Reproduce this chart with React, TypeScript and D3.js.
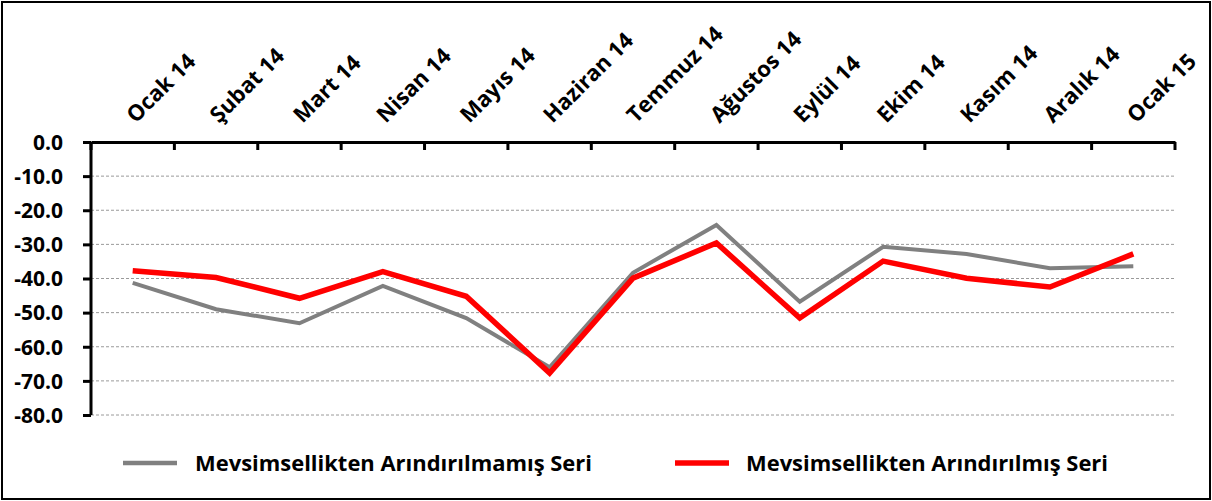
import { useEffect, useRef } from "react";
import * as d3 from "d3";

const months = [
  "Ocak 14", "Şubat 14", "Mart 14", "Nisan 14", "Mayıs 14", "Haziran 14", "Temmuz 14",
  "Ağustos 14", "Eylül 14", "Ekim 14", "Kasım 14", "Aralık 14", "Ocak 15",
];
const rawSeries = [-41.3, -49.0, -53.1, -42.2, -51.6, -66.0, -38.3, -24.3, -46.8, -30.7, -32.8, -37.0, -36.4];
const adjustedSeries = [-37.7, -39.7, -45.8, -38.0, -45.2, -67.7, -39.9, -29.6, -51.6, -34.9, -39.9, -42.5, -32.8];
const yTicks = [0, -10, -20, -30, -40, -50, -60, -70, -80];
const legendLabels = ["Mevsimsellikten Arındırılmamış Seri", "Mevsimsellikten Arındırılmış Seri"];

function App() {
  const ref = useRef<SVGSVGElement>(null);

  const width = 1212;
  const height = 501;
  const margin = { top: 142, right: 37, bottom: 86, left: 91 };
  const font = "'Open Sans', Lato, sans-serif";

  useEffect(() => {
    const svg = d3.select(ref.current);
    svg.selectAll("*").remove();

    const x = d3.scaleBand()
      .domain(months)
      .range([margin.left, width - margin.right]);

    const y = d3.scaleLinear()
      .domain([0, -80])
      .range([margin.top, height - margin.bottom]);

    // outer frame
    svg.append("rect")
      .attr("x", 2).attr("y", 2)
      .attr("width", width - 4).attr("height", height - 4)
      .attr("fill", "white")
      .attr("stroke", "black")
      .attr("stroke-width", 2);

    // dotted gridlines
    svg.append("g")
      .selectAll("line")
      .data(yTicks.filter(d => d !== 0))
      .enter()
      .append("line")
      .attr("x1", margin.left)
      .attr("x2", width - margin.right)
      .attr("y1", d => y(d))
      .attr("y2", d => y(d))
      .attr("stroke", "#9a9a9a")
      .attr("stroke-width", 1)
      .attr("stroke-dasharray", "3,2");

    // x axis along the top (at 0)
    const xAxis = svg.append("g")
      .attr("transform", `translate(0, ${y(0)})`)
      .call(d3.axisBottom(x).tickSize(0).tickFormat(() => ""));
    xAxis.select(".domain").attr("stroke", "black").attr("stroke-width", 3);
    const bounds = [...months.map(m => x(m) as number), width - margin.right];
    xAxis.selectAll("line.edge")
      .data(bounds)
      .enter()
      .append("line")
      .attr("class", "edge")
      .attr("x1", d => d).attr("x2", d => d)
      .attr("y1", 0).attr("y2", 8)
      .attr("stroke", "black")
      .attr("stroke-width", 3);

    // rotated month labels
    svg.append("g")
      .selectAll("text")
      .data(months)
      .enter()
      .append("text")
      .attr("transform", d => `translate(${(x(d) as number) + x.bandwidth() / 2 + 3}, 124) rotate(-45)`)
      .attr("font-family", font)
      .attr("font-weight", "bold")
      .attr("font-size", 22)
      .attr("fill", "black")
      .text(d => d);

    // y axis
    const yAxis = svg.append("g")
      .attr("transform", `translate(${margin.left}, 0)`)
      .call(d3.axisLeft(y).tickValues(yTicks).tickSize(8).tickPadding(20).tickFormat(d => (d as number).toFixed(1)));
    yAxis.select(".domain").attr("stroke", "black").attr("stroke-width", 3).attr("d", `M0,${y(0)}V${y(-80)}`);
    yAxis.selectAll(".tick line").attr("stroke", "black").attr("stroke-width", 3);
    yAxis.selectAll(".tick text")
      .attr("font-family", font)
      .attr("font-weight", "bold")
      .attr("font-size", 21)
      .attr("fill", "black")
      .attr("dy", "0.35em");

    const line = d3.line<number>()
      .x((_, i) => (x(months[i]) as number) + x.bandwidth() / 2)
      .y(d => y(d));

    svg.append("path")
      .datum(rawSeries)
      .attr("d", line)
      .attr("fill", "none")
      .attr("stroke", "#808080")
      .attr("stroke-width", 4);

    svg.append("path")
      .datum(adjustedSeries)
      .attr("d", line)
      .attr("fill", "none")
      .attr("stroke", "#ff0000")
      .attr("stroke-width", 5.5);

    // legend
    const legend = [
      { label: legendLabels[0], color: "#808080", w: 4.5, x0: 123, tx: 195, tl: 397 },
      { label: legendLabels[1], color: "#ff0000", w: 5.5, x0: 675, tx: 746, tl: 362 },
    ];
    const lg = svg.append("g")
      .selectAll("g")
      .data(legend)
      .enter()
      .append("g");
    lg.append("line")
      .attr("x1", d => d.x0).attr("x2", d => d.x0 + 54)
      .attr("y1", 463).attr("y2", 463)
      .attr("stroke", d => d.color)
      .attr("stroke-width", d => d.w);
    lg.append("text")
      .attr("x", d => d.tx)
      .attr("y", 471)
      .attr("font-family", font)
      .attr("font-weight", "bold")
      .attr("font-size", 22)
      .attr("textLength", d => d.tl)
      .attr("lengthAdjust", "spacingAndGlyphs")
      .attr("fill", "black")
      .text(d => d.label);
  });

  return (
    <div style={{ position: "absolute", left: 0, top: 0 }}>
      <svg ref={ref} width={width} height={height}></svg>
    </div>
  );
}

export default App;
